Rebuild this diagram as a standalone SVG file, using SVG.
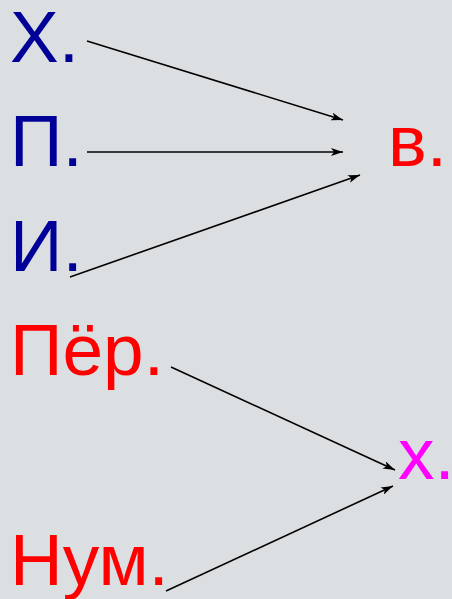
<svg xmlns="http://www.w3.org/2000/svg" width="452" height="599" viewBox="0 0 452 599">
<defs>
<style>
text{font-family:"Liberation Sans",Arial,sans-serif;font-size:73px}
.b{fill:#000099}.r{fill:#ff0000}.m{fill:#ff00ff}
.c line{stroke:#000;stroke-width:1.6;marker-end:url(#ah)}
</style>
<marker id="ah" viewBox="0 0 12 8" refX="12" refY="4" markerWidth="12" markerHeight="8" markerUnits="userSpaceOnUse" orient="auto">
<path d="M0,0 L12,4 L0,8 L3,4 Z" fill="#000"/>
</marker>
</defs>
<rect width="452" height="599" fill="#dcdfe2"/>
<g id="n-x"><text class="b" x="10" y="62">Х.</text></g>
<g id="n-p"><text class="b" x="10" y="166">П.</text></g>
<g id="n-i"><text class="b" x="10" y="271">И.</text></g>
<g id="n-per"><text class="r" x="10" y="375">Пёр.</text></g>
<g id="n-num"><text class="r" x="10" y="585">Нум.</text></g>
<g id="n-v"><text class="r" x="388" y="166">в.</text></g>
<g id="n-h"><text class="m" x="398" y="479">х.</text></g>
<g class="c" id="connectors">
<line x1="87" y1="41" x2="343" y2="120"/>
<line x1="87" y1="152" x2="343" y2="152"/>
<line x1="70" y1="277" x2="360" y2="175"/>
<line x1="171" y1="367" x2="395" y2="470"/>
<line x1="166" y1="591" x2="393" y2="486"/>
</g>
</svg>
